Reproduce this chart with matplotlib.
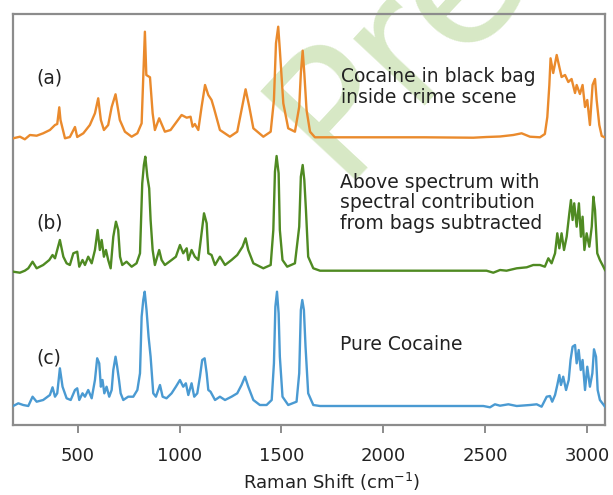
import matplotlib
matplotlib.use("Agg")
import matplotlib.pyplot as plt

# ---------------- data (Raman shift, stacked intensity in arbitrary units) -------------
wn_a = [184, 217, 241, 266, 299, 331, 364, 389, 400, 410, 416, 438, 462, 487, 498, 528, 560,
        585, 601, 614, 629, 650, 667, 686, 707, 732, 765, 793, 814, 822, 830, 837, 855, 868,
        879, 900, 928, 956, 986, 1010, 1035, 1054, 1064, 1075, 1092, 1108, 1125, 1141, 1157,
        1169, 1198, 1247, 1283, 1304, 1324, 1342, 1362, 1411, 1447, 1463, 1473, 1484, 1492,
        1509, 1533, 1566, 1587, 1595, 1604, 1612, 1623, 1640, 1664, 1800, 2000, 2200, 2441,
        2506, 2572, 2637, 2678, 2719, 2768, 2792, 2804, 2814, 2820, 2833, 2850, 2863, 2874,
        2891, 2907, 2923, 2940, 2948, 2964, 2977, 2989, 3000, 3013, 3026, 3038, 3046, 3059,
        3071, 3087]
int_a = [286.7, 288.3, 285.7, 290, 289.3, 291.7, 295, 300, 301, 317.7, 305, 286.7, 288, 298,
         288, 291.7, 300, 311.7, 326.7, 305, 295, 300, 318, 330.7, 305, 293.3, 288.3, 291.7,
         301.7, 348, 393.3, 350, 347.7, 311.7, 295, 306.7, 293.3, 295, 303.3, 310, 307.3,
         308.3, 298.3, 301, 295, 318, 340, 330, 325, 316.7, 295, 288.3, 293.3, 315, 335.7,
         318.3, 296.7, 288.3, 293.3, 325, 381.7, 398.3, 375, 321.7, 296.7, 293.3, 318.3,
         351.7, 374.3, 351.7, 315, 293.3, 287.7, 287.7, 287.7, 287.7, 287.3, 288, 288.5,
         290, 291.7, 288.3, 287.7, 291, 308, 340, 366.7, 352, 370, 358, 348, 350, 343,
         346, 332, 340, 331, 340, 318, 325, 300, 340, 346, 325, 300, 289, 287.5]

wn_b = [184, 217, 241, 258, 279, 299, 331, 361, 377, 389, 413, 430, 446, 462, 479, 498, 508,
        524, 536, 552, 569, 585, 598, 609, 618, 629, 639, 650, 662, 675, 688, 699, 708, 719,
        740, 765, 789, 806, 817, 825, 832, 842, 851, 858, 868, 879, 900, 912, 928, 961, 982,
        1002, 1018, 1035, 1043, 1059, 1075, 1092, 1108, 1120, 1133, 1141, 1157, 1174, 1198,
        1223, 1255, 1283, 1309, 1324, 1337, 1362, 1411, 1447, 1460, 1468, 1476, 1486, 1492,
        1505, 1528, 1566, 1587, 1595, 1604, 1612, 1620, 1631, 1656, 1689, 2081, 2506, 2539,
        2572, 2604, 2654, 2703, 2735, 2768, 2792, 2809, 2825, 2842, 2853, 2863, 2874, 2886,
        2899, 2912, 2920, 2928, 2936, 2948, 2959, 2969, 2977, 2986, 2997, 3010, 3022, 3030,
        3038, 3049, 3062, 3079, 3087]
int_b = [153.3, 152.3, 154.3, 156.7, 163.3, 156.7, 160, 165, 170, 166.7, 185, 168.3, 161.7,
         160, 171.7, 173.3, 158.3, 165, 160, 168.3, 161.7, 175, 195, 175, 185, 168.3, 175,
         165, 156.7, 188.3, 203.3, 195, 168.3, 160, 163.3, 158.3, 161.7, 171.7, 241.7, 260,
         268.3, 248.3, 236.7, 205, 175, 160, 175, 165, 160, 165, 168.3, 180, 171.7, 176.7,
         165, 175, 168.3, 165, 191.7, 211.7, 201.7, 171.7, 170, 160, 168.3, 160, 165, 170,
         178.3, 186.7, 175, 161.7, 156.7, 160, 195, 253.3, 269, 251.7, 195, 165, 158.3,
         161.7, 198.3, 248.3, 260, 245, 215, 168.3, 156.7, 154.3, 154.3, 154.3, 152.3, 155,
         154.3, 156.7, 157.7, 160, 160, 158.3, 166.7, 161.7, 171.7, 191.7, 176.7, 191.7, 175,
         188.3, 211.7, 225, 205, 221.7, 198.3, 221.7, 188.3, 208.3, 175, 191.7, 178.3, 198.3,
         228.3, 215, 171.7, 165, 158.3, 155]

wn_c = [184, 209, 233, 258, 279, 299, 331, 364, 377, 389, 400, 413, 426, 446, 466, 487, 498,
        508, 524, 536, 552, 569, 585, 596, 606, 614, 622, 631, 642, 655, 667, 675, 686, 694,
        703, 711, 724, 748, 773, 793, 806, 814, 822, 829, 838, 848, 858, 871, 884, 904, 917,
        936, 961, 982, 1002, 1018, 1031, 1043, 1059, 1072, 1087, 1100, 1111, 1123, 1133, 1141,
        1152, 1174, 1198, 1223, 1255, 1283, 1304, 1321, 1337, 1362, 1394, 1427, 1452, 1463,
        1470, 1478, 1486, 1492, 1505, 1533, 1574, 1587, 1595, 1602, 1610, 1618, 1631, 1656,
        1689, 2490, 2523, 2547, 2572, 2613, 2654, 2719, 2752, 2776, 2801, 2817, 2828, 2842,
        2853, 2863, 2871, 2882, 2896, 2909, 2918, 2928, 2940, 2948, 2958, 2968, 2977, 2989,
        3000, 3013, 3025, 3033, 3043, 3051, 3062, 3087]
int_c = [19, 21.7, 20, 19, 28.3, 23.3, 25, 30, 37.7, 28.3, 31.7, 56.7, 38.3, 26.7, 25, 35,
         36.7, 25, 31.7, 28.3, 35, 26.7, 45, 66.7, 61.7, 38.3, 45, 31.7, 38.3, 28.3, 35, 55,
         68.3, 58.3, 45, 31.7, 25, 28.3, 28.3, 35, 51.7, 108.3, 125, 133.3, 115, 88.3, 68.3,
         31.7, 28.3, 40, 28.3, 26.7, 31.7, 38.3, 45, 38.3, 41.7, 30, 41.7, 28.3, 31.7, 48.3,
         65, 66.7, 51.7, 35, 33.3, 25, 28.3, 25, 28.3, 31.7, 40, 48.3, 38.3, 25, 20, 20, 25,
         61.7, 118.3, 133.3, 111.7, 68.3, 28.3, 20, 23.3, 51.7, 115, 125, 115, 78.3, 31.7,
         20, 19, 19, 17.7, 20.7, 19.3, 20.7, 19, 20, 20.7, 18.3, 28.3, 29, 23.3, 30, 40, 50,
         40, 48.3, 35, 45, 65, 78.3, 80, 61.7, 75, 55, 65, 35, 58.3, 38.3, 51.7, 75.7, 68.3,
         35, 25, 18.3]

labels = ["(a)", "(b)", "(c)"]
notes = ["Cocaine in black bag\ninside crime scene",
         "Above spectrum with\nspectral contribution\nfrom bags subtracted",
         "Pure Cocaine"]
xticks = [500, 1000, 1500, 2000, 2500, 3000]
xlabel = "Raman Shift (cm$^{-1}$)"
watermark = "Preview"

colors = ["#ea8a2c", "#4f8a22", "#4a9ad2"]

W, H = 613, 495
fig = plt.figure(figsize=(W / 100, H / 100), dpi=100)
ax = fig.add_axes([13 / W, 1 - 425 / H, (605 - 13) / W, (425 - 14) / H])

for wn, it, c in zip([wn_a, wn_b, wn_c], [int_a, int_b, int_c], colors):
    ax.plot(wn, it, color=c, lw=1.7, solid_joinstyle="round", zorder=3)

ax.set_xlim(183, 3087)
ax.set_ylim(0, 411)
ax.set_yticks([])
ax.set_xticks(xticks)
ax.set_xticklabels([str(t) for t in xticks])
ax.tick_params(axis="x", direction="out", length=6, width=1.4, color="#8c8c8c",
               labelsize=13, labelcolor="#222222", pad=10)
for s in ax.spines.values():
    s.set_color("#8c8c8c")
    s.set_linewidth(1.6)

tf = fig.transFigure


def fx(px):
    return px / W


def fy(py):
    return 1 - py / H


fs = 13.5
txt_kw = dict(fontsize=fs, color="#222222", family="DejaVu Sans", transform=tf)
for lab, py in zip(labels, [78, 223, 358]):
    ax.text(fx(36), fy(py), lab, ha="left", va="center", **txt_kw)

note_pos = [(341, 87), (340, 203), (340, 344)]
for note, (px, py) in zip(notes, note_pos):
    ax.text(fx(px), fy(py), note, ha="left", va="center", linespacing=1.08, **txt_kw)

fig.text(fx(332), fy(493), xlabel, ha="center", va="bottom", fontsize=13,
         color="#222222", family="DejaVu Sans")

# watermark
ax.text(fx(338), fy(180), watermark, transform=tf, rotation=47, rotation_mode="anchor",
        ha="left", va="baseline", fontsize=128, color="#d3e6bf", alpha=0.9,
        family="DejaVu Sans", zorder=1, clip_on=False)

fig.savefig("out.png", dpi=100)
